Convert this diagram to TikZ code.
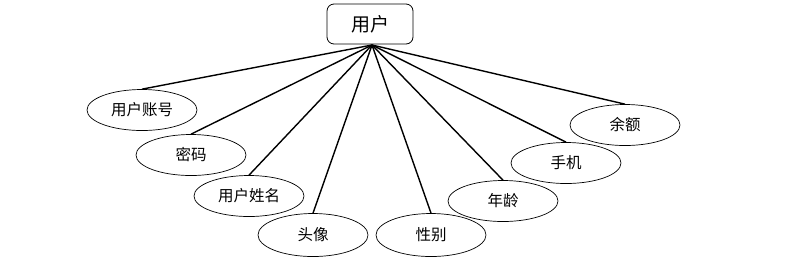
\documentclass[tikz,border=0pt]{standalone}
\usepackage{fontspec}
\setmainfont{Noto Sans CJK SC}
\usetikzlibrary{shapes.geometric}
\tikzset{attr/.style={ellipse,draw,line width=.7pt,minimum width=110pt,minimum height=41pt,inner sep=0pt,font=\fontsize{15.5}{17}\selectfont},
  link/.style={line width=1.4pt}}
\begin{document}
\begin{tikzpicture}[x=1pt,y=-1pt]
\useasboundingbox (0,0) rectangle (786,269);
\node[draw,rounded corners=7pt,line width=.8pt,minimum width=86pt,minimum height=40pt,inner sep=0pt,font=\fontsize{19}{21}\selectfont] (user) at (370,24) {用户};
\coordinate (hub) at (372,45);
\node[attr] (acct) at (142,110) {用户账号};
\node[attr] (pwd) at (191,155) {密码};
\node[attr] (name) at (249,196) {用户姓名};
\node[attr,minimum height=43pt] (avatar) at (313,235) {头像};
\node[attr,minimum height=43pt] (sex) at (431,235) {性别};
\node[attr] (age) at (503,201) {年龄};
\node[attr] (phone) at (566,163) {手机};
\node[attr] (money) at (625,125) {余额};
\foreach \n in {acct,pwd,name,avatar,sex,age,phone,money}
  \draw[link] (hub) -- (\n.north);
\end{tikzpicture}
\end{document}
